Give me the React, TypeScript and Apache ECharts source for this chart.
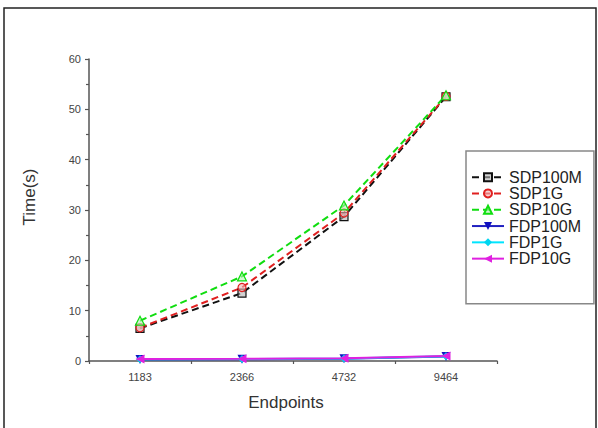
import React, { useEffect, useRef } from "react";
import * as echarts from "echarts";

const categories = ["1183", "2366", "4732", "9464"];
const seriesNames = ["SDP100M", "SDP1G", "SDP10G", "FDP100M", "FDP1G", "FDP10G"];
const sdp100m = [6.5, 13.5, 28.7, 52.5];
const sdp1g = [6.6, 14.6, 29.4, 52.6];
const sdp10g = [8.0, 16.8, 30.9, 52.8];
const fdp100m = [0.3, 0.35, 0.45, 0.9];
const fdp1g = [0.35, 0.4, 0.5, 0.95];
const fdp10g = [0.4, 0.45, 0.55, 1.0];
const yMin = 0;
const yMax = 60;
const yInterval = 10;

export default function App() {
  const ref = useRef<HTMLDivElement>(null);
  useEffect(() => {
    if (!ref.current) return;
    const chart = echarts.init(ref.current, null, { renderer: "svg" });
    const font = "Liberation Sans, Arial, sans-serif";
    const mk = (
      name: string,
      data: number[],
      color: string,
      dashed: boolean,
      symbol: string,
      fill: string,
      rotate: number
    ) => ({
      name,
      type: "line",
      data,
      xAxisIndex: 0,
      symbol,
      symbolSize: symbol === "triangle" ? 9 : 8,
      symbolRotate: rotate,
      lineStyle: { color, width: 2, type: dashed ? [7, 4] : "solid" },
      itemStyle: { color: fill, borderColor: color, borderWidth: dashed ? 1.2 : 0 },
    });
    chart.setOption({
      animation: false,
      backgroundColor: "#ffffff",
      grid: { left: 89, top: 59, right: 101, bottom: 67, containLabel: false },
      legend: {
        orient: "vertical",
        left: 466,
        top: 151,
        data: seriesNames,
        padding: [18, 12, 37, 5],
        itemGap: 0,
        itemWidth: 32,
        itemHeight: 10,
        borderColor: "#888888",
        borderWidth: 1.5,
        textStyle: { fontFamily: font, fontSize: 16, color: "#222", lineHeight: 16.3 },
      },
      xAxis: [
        {
          type: "category",
          data: categories,
          axisLine: { lineStyle: { color: "#555", width: 1.5 } },
          axisTick: { alignWithLabel: true, length: 5, lineStyle: { color: "#555", width: 1.2 } },
          axisLabel: { fontFamily: font, fontSize: 11, color: "#444", margin: 10 },
        },
        {
          type: "category",
          data: categories,
          position: "bottom",
          axisLine: { show: false },
          axisTick: { show: true, length: 3, lineStyle: { color: "#555", width: 1.2 } },
          axisLabel: { show: false },
        },
      ],
      yAxis: {
        type: "value",
        min: yMin,
        max: yMax,
        interval: yInterval,
        splitLine: { show: false },
        axisLine: { show: true, lineStyle: { color: "#555", width: 1.5 } },
        axisTick: { show: true, length: 4, lineStyle: { color: "#555", width: 1.2 } },
        minorTick: { show: true, splitNumber: 2, length: 3, lineStyle: { color: "#555", width: 1.2 } },
        axisLabel: { fontFamily: font, fontSize: 11, color: "#444", margin: 8 },
      },
      graphic: [
        {
          type: "rect",
          shape: { x: 4, y: 8, width: 592, height: 440 },
          style: { fill: "none", stroke: "#222", lineWidth: 1.5 },
          silent: true,
          z: -10,
        },
        {
          type: "text",
          x: 29,
          y: 197,
          rotation: Math.PI / 2,
          style: {
            text: "Time(s)",
            font: `17px ${font}`,
            fill: "#333",
            textAlign: "center",
            textVerticalAlign: "middle",
          },
        },
        {
          type: "text",
          x: 286,
          y: 402,
          style: {
            text: "Endpoints",
            font: `17px ${font}`,
            fill: "#333",
            textAlign: "center",
            textVerticalAlign: "middle",
          },
        },
      ],
      series: [
        mk(seriesNames[0], sdp100m, "#111111", true, "rect", "rgba(180,180,180,0.6)", 0),
        mk(seriesNames[1], sdp1g, "#e02020", true, "circle", "rgba(240,180,180,0.6)", 0),
        mk(seriesNames[2], sdp10g, "#10dd10", true, "triangle", "rgba(180,240,180,0.6)", 0),
        mk(seriesNames[3], fdp100m, "#2020c0", false, "triangle", "#1010c0", 180),
        mk(seriesNames[4], fdp1g, "#00e5ff", false, "diamond", "#00d5f0", 0),
        mk(seriesNames[5], fdp10g, "#e020e0", false, "triangle", "#e020e0", 90),
      ],
    });
    return () => chart.dispose();
  }, []);
  return (
    <div
      ref={ref}
      style={{ position: "fixed", left: 0, top: 0, width: 598, height: 428 }}
    />
  );
}
